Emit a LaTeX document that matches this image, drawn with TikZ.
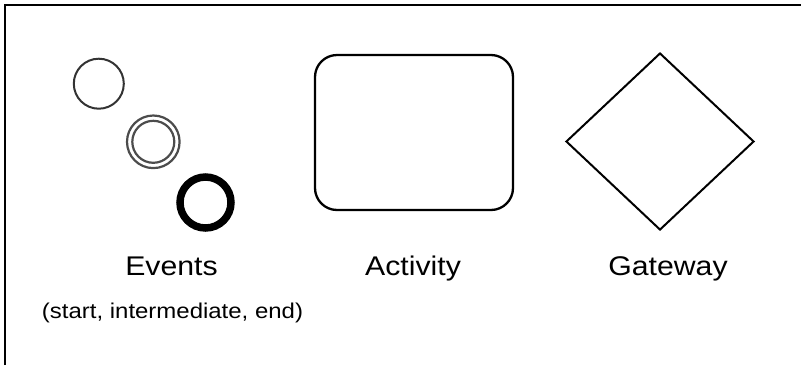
\documentclass[tikz,border=0pt]{standalone}
\usepackage{fontspec}
\setmainfont{Liberation Sans}
\usepackage{tikz}
\usetikzlibrary{positioning,shapes.geometric}

\tikzset{
  evt/.style={circle, draw=black!80, line width=2pt, minimum size=50pt, inner sep=0pt},
  title/.style={anchor=base, xscale=1.12, font=\fontsize{27}{30}\selectfont},
  subtitle/.style={anchor=base, xscale=1.12, font=\fontsize{21.4}{24}\selectfont}
}

\begin{document}
\begin{tikzpicture}[x=1pt,y=-1pt]
	\useasboundingbox (0,0) rectangle (801,365);
	% frame, only left and top show
	\coordinate (fl) at (5,365);
	\coordinate (fc) at (5,5);
	\coordinate (fr) at (801,5);
	\draw[line width=2pt] (fl) -- (fc) -- (fr);
	% events
	\node[evt] (start) at (98.8,83.7) {};
	\node[evt, draw=black!70, line width=2.2pt, minimum size=52.6pt] (inter) at (153.3,141.8) {};
	\node[circle, draw=black!70, line width=2.2pt, minimum size=42pt, inner sep=0pt] (interin) at (inter) {};
	\node[evt, draw=black, line width=7.5pt, minimum size=51pt] (end) at (205.5,202.5) {};
	% activity
	\node[draw, rectangle, rounded corners=22pt, line width=2.3pt, minimum width=198pt, minimum height=155pt] (act) at (414,132.5) {};
	% gateway
	\node[draw, diamond, line width=2pt, inner sep=0pt, minimum width=188pt, minimum height=177pt] (gate) at (660,141.5) {};
	% labels
	\node[title] (evtlbl) at (171.5,275) {Events};
	\node[subtitle] (evtsub) at (172.5,318) {(start, intermediate, end)};
	\node[title] (actlbl) at (413,275) {Activity};
	\node[title] (gatelbl) at (668,275) {Gateway};
\end{tikzpicture}
\end{document}
